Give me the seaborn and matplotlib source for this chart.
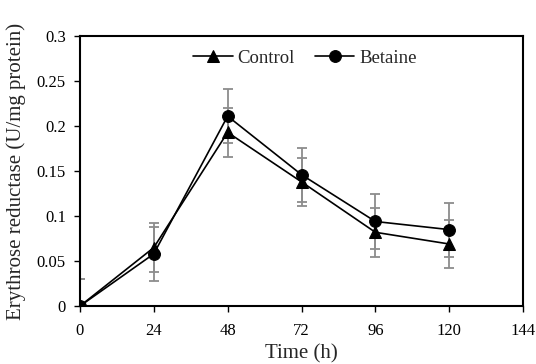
import matplotlib
matplotlib.use("Agg")
import matplotlib.pyplot as plt
import seaborn as sns
import pandas as pd

time_h = [0, 24, 48, 72, 96, 120]
control = [0.0, 0.065, 0.193, 0.138, 0.082, 0.069]
control_err = [0.03, 0.027, 0.027, 0.027, 0.027, 0.027]
betaine = [0.0, 0.058, 0.211, 0.146, 0.094, 0.085]
betaine_err = [0.03, 0.03, 0.03, 0.03, 0.03, 0.03]
x_ticks = [0, 24, 48, 72, 96, 120, 144]
y_ticks = [0, 0.05, 0.1, 0.15, 0.2, 0.25, 0.3]
y_tick_labels = ["0", "0.05", "0.1", "0.15", "0.2", "0.25", "0.3"]

sns.set_style("ticks")
plt.rcParams['font.family'] = ['Liberation Serif', 'DejaVu Serif']

df = pd.DataFrame({
    "Time": time_h * 2,
    "Value": control + betaine,
    "Group": ["Control"] * len(time_h) + ["Betaine"] * len(time_h),
})

fig = plt.figure(figsize=(5.36, 3.64), dpi=100)
ax = fig.add_axes([0.149, 0.159, 0.827, 0.742])

ax.errorbar(time_h, control, yerr=control_err, fmt='none', ecolor='#8c8c8c',
            elinewidth=1.3, capsize=3.6, capthick=1.3, zorder=1)
ax.errorbar(time_h, betaine, yerr=betaine_err, fmt='none', ecolor='#8c8c8c',
            elinewidth=1.3, capsize=3.6, capthick=1.3, zorder=1)

sns.lineplot(data=df, x="Time", y="Value", hue="Group", style="Group",
             markers={"Control": "^", "Betaine": "o"}, dashes=False,
             palette={"Control": "black", "Betaine": "black"},
             markersize=8.5, linewidth=1.2, markeredgecolor='black',
             ax=ax, zorder=3)

ax.set_xlim(0, 144)
ax.set_ylim(0, 0.3)
ax.set_xticks(x_ticks)
ax.set_yticks(y_ticks)
ax.set_yticklabels(y_tick_labels)
ax.tick_params(axis='both', labelsize=12, direction='out', length=4, width=1, colors='black')
ax.tick_params(axis='x', pad=8)
ax.tick_params(axis='y', pad=6)
ax.set_xlabel("Time (h)", fontsize=15, labelpad=4)
ax.set_ylabel("Erythrose reductase (U/mg protein)", fontsize=15, labelpad=8)
for s in ax.spines.values():
    s.set_visible(True)
    s.set_linewidth(1.5)
    s.set_color('black')

leg = ax.legend(title=None, ncol=2, loc='center', bbox_to_anchor=(0.508, 0.918),
                frameon=False, fontsize=13.5, handlelength=2.1, handletextpad=0.27,
                columnspacing=1.07)

fig.savefig("out.png", dpi=100)
